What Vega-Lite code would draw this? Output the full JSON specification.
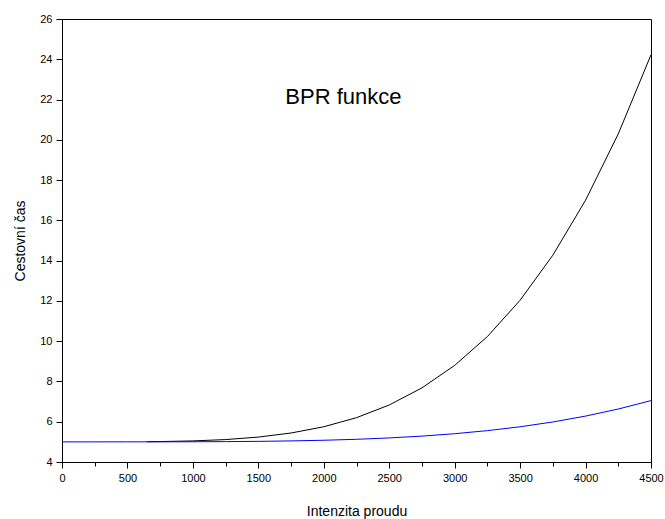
{
  "$schema": "https://vega.github.io/schema/vega-lite/v6.json",
  "width": 589,
  "height": 443,
  "autosize": "none",
  "padding": {"left": 62, "top": 19, "right": 14, "bottom": 57},
  "background": "white",
  "config": {
    "view": {"stroke": "#000000", "strokeWidth": 1},
    "font": "Liberation Sans",
    "axis": {
      "domainColor": "#000000",
      "tickColor": "#000000",
      "labelColor": "#000000",
      "titleColor": "#000000",
      "labelFont": "Liberation Sans",
      "titleFont": "Liberation Sans",
      "labelFontSize": 11,
      "titleFontSize": 14,
      "titleFontWeight": "normal",
      "grid": false,
      "tickSize": 6
    }
  },
  "datasets": {
    "curves": [
      {"v": 650, "t": 5.008, "s": "c2000"},
      {"v": 750, "t": 5.015, "s": "c2000"},
      {"v": 1000, "t": 5.047, "s": "c2000"},
      {"v": 1250, "t": 5.114, "s": "c2000"},
      {"v": 1500, "t": 5.237, "s": "c2000"},
      {"v": 1750, "t": 5.44, "s": "c2000"},
      {"v": 2000, "t": 5.75, "s": "c2000"},
      {"v": 2250, "t": 6.201, "s": "c2000"},
      {"v": 2500, "t": 6.831, "s": "c2000"},
      {"v": 2750, "t": 7.681, "s": "c2000"},
      {"v": 3000, "t": 8.797, "s": "c2000"},
      {"v": 3250, "t": 10.23, "s": "c2000"},
      {"v": 3500, "t": 12.034, "s": "c2000"},
      {"v": 3750, "t": 14.27, "s": "c2000"},
      {"v": 4000, "t": 17.0, "s": "c2000"},
      {"v": 4250, "t": 20.293, "s": "c2000"},
      {"v": 4500, "t": 24.222, "s": "c2000"},
      {"v": 0, "t": 5.0, "s": "c3500"},
      {"v": 250, "t": 5.0, "s": "c3500"},
      {"v": 500, "t": 5.0003, "s": "c3500"},
      {"v": 750, "t": 5.0016, "s": "c3500"},
      {"v": 1000, "t": 5.005, "s": "c3500"},
      {"v": 1250, "t": 5.012, "s": "c3500"},
      {"v": 1500, "t": 5.025, "s": "c3500"},
      {"v": 1750, "t": 5.047, "s": "c3500"},
      {"v": 2000, "t": 5.08, "s": "c3500"},
      {"v": 2250, "t": 5.128, "s": "c3500"},
      {"v": 2500, "t": 5.195, "s": "c3500"},
      {"v": 2750, "t": 5.286, "s": "c3500"},
      {"v": 3000, "t": 5.405, "s": "c3500"},
      {"v": 3250, "t": 5.558, "s": "c3500"},
      {"v": 3500, "t": 5.75, "s": "c3500"},
      {"v": 3750, "t": 5.988, "s": "c3500"},
      {"v": 4000, "t": 6.28, "s": "c3500"},
      {"v": 4250, "t": 6.631, "s": "c3500"},
      {"v": 4500, "t": 7.049, "s": "c3500"}
    ],
    "label": [{"v": 2150, "t": 21.78, "text": "BPR funkce"}]
  },
  "layer": [
    {
      "data": {"name": "curves"},
      "mark": {"type": "line", "strokeWidth": 1, "clip": true},
      "encoding": {
        "x": {
          "field": "v", "type": "quantitative",
          "scale": {"domain": [0, 4500], "nice": false, "zero": false},
          "axis": {
            "orient": "bottom",
            "values": [0, 500, 1000, 1500, 2000, 2500, 3000, 3500, 4000, 4500],
            "format": "d",
            "title": "Intenzita proudu",
            "labelPadding": 4,
            "titlePadding": 21,
            "labelFlush": false,
            "labelOverlap": false
          }
        },
        "y": {
          "field": "t", "type": "quantitative",
          "scale": {"domain": [4, 26], "nice": false, "zero": false},
          "axis": {
            "values": [4, 6, 8, 10, 12, 14, 16, 18, 20, 22, 24, 26],
            "title": "Cestovní čas",
            "labelPadding": 4,
            "titlePadding": 12,
            "labelFlush": false,
            "labelOverlap": false
          }
        },
        "color": {
          "field": "s", "type": "nominal",
          "scale": {"domain": ["c2000", "c3500"], "range": ["#000000", "#0000ff"]},
          "legend": null
        },
        "order": {"field": "v", "type": "quantitative"}
      }
    },
    {
      "data": {"values": [{"v": 250}, {"v": 750}, {"v": 1250}, {"v": 1750}, {"v": 2250}, {"v": 2750}, {"v": 3250}, {"v": 3750}, {"v": 4250}]},
      "mark": {"type": "tick", "opacity": 0},
      "encoding": {
        "x": {
          "field": "v", "type": "quantitative",
          "scale": {"domain": [0, 4500], "nice": false, "zero": false},
          "axis": {
            "orient": "bottom",
            "values": [250, 750, 1250, 1750, 2250, 2750, 3250, 3750, 4250],
            "labels": false, "domain": false, "title": null, "tickSize": 4
          }
        }
      }
    },
    {
      "data": {"name": "label"},
      "mark": {"type": "text", "fontSize": 22, "font": "Liberation Sans", "align": "center", "baseline": "alphabetic", "color": "#000000"},
      "encoding": {
        "x": {"field": "v", "type": "quantitative", "axis": null},
        "y": {"field": "t", "type": "quantitative"},
        "text": {"field": "text"}
      }
    }
  ],
  "resolve": {"axis": {"x": "independent"}}
}
